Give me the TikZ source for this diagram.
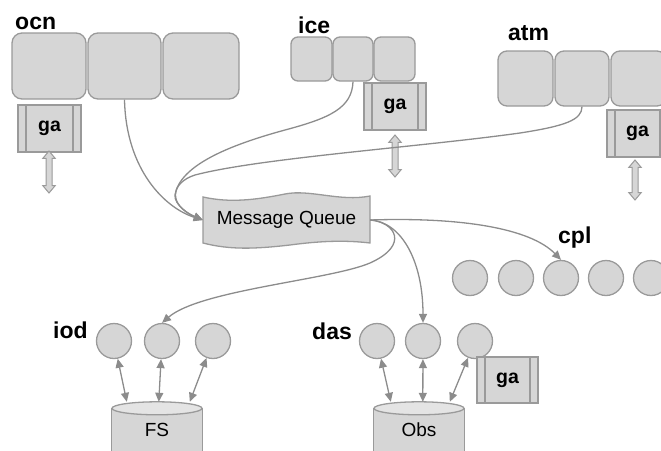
\documentclass[tikz,border=0pt]{standalone}
\usepackage{fontspec}
\setmainfont{Liberation Sans}
\usetikzlibrary{arrows.meta,shapes.arrows,calc,backgrounds}
\definecolor{boxfill}{HTML}{D6D6D6}
\definecolor{boxline}{HTML}{9A9A9A}
\definecolor{wiregrey}{HTML}{8C8C8C}
\definecolor{capfill}{HTML}{E4E4E4}

\begin{document}
\begin{tikzpicture}[x=1pt,y=-1pt,
  cell/.style={draw=boxline, fill=boxfill, line width=1.3pt, rounded corners=#1, inner sep=0pt},
  gabox/.style={draw=boxline, fill=boxfill, line width=1.3pt, minimum width=62pt, minimum height=47pt,
    inner sep=0pt, font=\bfseries\fontsize{19.5}{22}\selectfont,
    path picture={\draw[boxline, line width=1.3pt]
      ([xshift=8pt]path picture bounding box.north west) -- ([xshift=8pt]path picture bounding box.south west)
      ([xshift=-8pt]path picture bounding box.north east) -- ([xshift=-8pt]path picture bounding box.south east);}},
  tubearrow/.style={double arrow, draw=boxline, fill=boxfill, line width=1pt, rotate=90,
    minimum height=#1, inner sep=2.5pt, double arrow head extend=3.2pt, double arrow tip angle=80},
  proc/.style={circle, draw=boxline, fill=boxfill, line width=1.3pt, minimum size=35pt, inner sep=0pt},
  lab/.style={font=\bfseries\fontsize{23}{27}\selectfont, anchor=base west, inner sep=0pt},
  store/.style={minimum width=90pt, minimum height=56pt, inner sep=0pt, font=\fontsize{19}{22}\selectfont},
  link/.style={draw=wiregrey, line width=1.3pt, -{Triangle[length=9pt,width=8pt]}},
  twoway/.style={draw=wiregrey, line width=1.3pt,
    {Triangle[length=9pt,width=8pt]}-{Triangle[length=9pt,width=8pt]}}
]
\useasboundingbox (0,0) rectangle (661,450);

% ---- ocean component ----
\node[lab] (ocnlab) at (15,29) {ocn};
\node[cell=10pt, minimum width=74pt, minimum height=66pt] (ocn1) at (49,66) {};
\node[cell=10pt, minimum width=73pt, minimum height=66pt] (ocn2) at (124.5,66) {};
\node[cell=10pt, minimum width=76pt, minimum height=66pt] (ocn3) at (201,66) {};
\node[gabox, minimum width=63pt] (ocnga) at (49.5,128.5) {ga};
\node[tubearrow=42pt] (ocnio) at (49,172) {};

% ---- sea ice component ----
\node[lab] (icelab) at (298,33) {ice};
\node[cell=7pt, minimum width=41pt, minimum height=44pt] (ice1) at (311.5,59) {};
\node[cell=7pt, minimum width=40pt, minimum height=44pt] (ice2) at (353,59) {};
\node[cell=7pt, minimum width=41pt, minimum height=44pt] (ice3) at (394.5,59) {};
\node[gabox] (icega) at (395,106.5) {ga};
\node[tubearrow=42pt] (iceio) at (395,156) {};

% ---- atmosphere component ----
\node[lab] (atmlab) at (508,40) {atm};
\node[cell=9pt, minimum width=55pt, minimum height=55pt] (atm1) at (525.5,78.5) {};
\node[cell=9pt, minimum width=54pt, minimum height=55pt] (atm2) at (582,78.5) {};
\node[cell=9pt, minimum width=55pt, minimum height=55pt] (atm3) at (638.5,78.5) {};
\node[gabox, minimum width=61pt] (atmga) at (637.5,133.5) {ga};
\node[tubearrow=40pt] (atmio) at (635,180) {};

% ---- message queue ----
\node[font=\fontsize{19}{22}\selectfont, minimum width=167pt, minimum height=46pt, inner sep=0pt]
  (mq) at (286.5,220) {Message Queue};
\begin{scope}[on background layer]
  \draw[boxline, fill=boxfill, line width=1.3pt]
    (203,197) .. controls (230,203) and (255,200) .. (285,194)
              .. controls (310,189) and (340,202) .. (370,196)
    -- (370,243)
              .. controls (345,240) and (320,241) .. (290,245)
              .. controls (255,249) and (230,250) .. (203,243)
    -- cycle;
\end{scope}

% ---- coupler ----
\node[lab] (cpllab) at (558,243) {cpl};
\node[proc] (cpl1) at (470,278) {};
\node[proc] (cpl2) at (516,278) {};
\node[proc] (cpl3) at (561,278) {};
\node[proc] (cpl4) at (606,278) {};
\node[proc] (cpl5) at (651,278) {};

% ---- I/O daemons and file system ----
\node[lab] (iodlab) at (53,338) {iod};
\node[proc] (iod1) at (114,341) {};
\node[proc] (iod2) at (162,341) {};
\node[proc] (iod3) at (213,341) {};
\node[store] (fs) at (157,430) {FS};

% ---- data assimilation and observations ----
\node[lab] (daslab) at (312,339) {das};
\node[proc] (das1) at (377,341) {};
\node[proc] (das2) at (423,341) {};
\node[proc] (das3) at (475,341) {};
\node[gabox, minimum width=61pt, minimum height=46pt] (dasga) at (507.5,380) {ga};
\node[store] (obs) at (419,430) {Obs};

% cylinder outlines behind the store labels
\begin{scope}[on background layer]
  \foreach \s in {fs,obs}{
    \draw[boxline, fill=boxfill, line width=1.3pt]
      ($(\s.north west)+(0,6.5)$) -- ($(\s.south west)+(0,14)$) --
      ($(\s.south east)+(0,14)$) -- ($(\s.north east)+(0,6.5)$) -- cycle;
    \draw[boxline, fill=capfill, line width=1.3pt]
      ($(\s.north)+(0,6.5)$) ellipse [x radius=45pt, y radius=6.5pt];
  }
\end{scope}

% ---- connectors into the queue ----
\draw[link] (ocn2.south) .. controls (126,170) and (165,208) .. (mq.west);
\draw[link] (ice2.south) .. controls (352,108) and (330,118) .. (285,130)
  .. controls (230,145) and (180,165) .. (175,195)
  .. controls (174,205) and (190,215) .. (mq.west);
\draw[link] (atm2.south) .. controls (582,120) and (565,126) .. (520,133)
  .. controls (420,147) and (260,158) .. (195,175)
  .. controls (170,183) and (168,205) .. (mq.west);

% ---- connectors out of the queue ----
\draw[link] (mq.east) .. controls (460,217) and (530,228) .. (cpl3.north);
\draw[link] (mq.east) .. controls (402,222) and (423,262) .. (das2.north);
\draw[link] (mq.east) .. controls (395,222) and (410,245) .. (370,263)
  .. controls (330,280) and (200,290) .. (iod2.north);

% ---- reads and writes ----
\draw[twoway] (iod1) -- ([xshift=15pt]fs.north west);
\draw[twoway] (iod2) -- ([xshift=47pt]fs.north west);
\draw[twoway] (iod3) -- ([xshift=78pt]fs.north west);
\draw[twoway] (das1) -- ([xshift=17pt]obs.north west);
\draw[twoway] (das2) -- ([xshift=49pt]obs.north west);
\draw[twoway] (das3) -- ([xshift=76pt]obs.north west);
\end{tikzpicture}
\end{document}
